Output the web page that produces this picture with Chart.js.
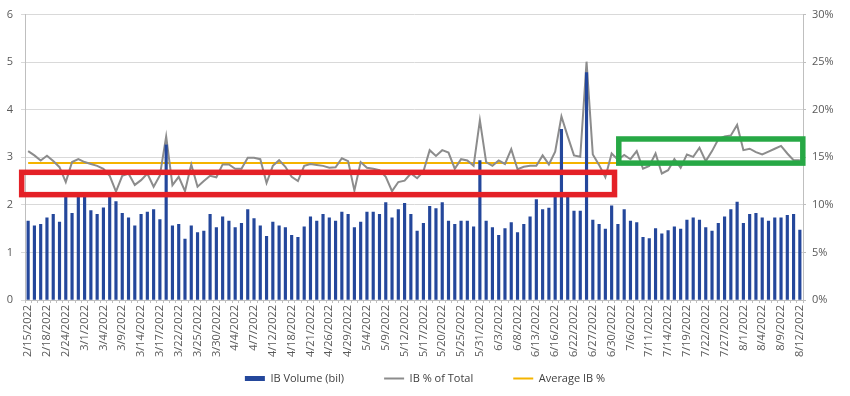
<!DOCTYPE html>
<html>
<head>
<meta charset="utf-8">
<title>IB Volume and IB % of Total</title>
<script src="https://cdn.jsdelivr.net/npm/chart.js@4.4.1/dist/chart.umd.min.js"></script>
<style>
  html, body { margin: 0; padding: 0; background: #ffffff; }
  #wrap { width: 850px; height: 396px; }
</style>
</head>
<body>
<div id="wrap"><canvas id="ib-chart" width="850" height="396"></canvas></div>
<script>
'use strict';

// Trading days, 2/15/2022 - 8/12/2022 (market holidays skipped)
const tradeDates = [
  '2/15/2022', '2/16/2022', '2/17/2022', '2/18/2022', '2/22/2022', '2/23/2022', '2/24/2022', '2/25/2022', '2/28/2022',
  '3/1/2022', '3/2/2022', '3/3/2022', '3/4/2022', '3/7/2022', '3/8/2022', '3/9/2022', '3/10/2022', '3/11/2022',
  '3/14/2022', '3/15/2022', '3/16/2022', '3/17/2022', '3/18/2022', '3/21/2022', '3/22/2022', '3/23/2022', '3/24/2022',
  '3/25/2022', '3/28/2022', '3/29/2022', '3/30/2022', '3/31/2022',
  '4/1/2022', '4/4/2022', '4/5/2022', '4/6/2022', '4/7/2022', '4/8/2022', '4/11/2022', '4/12/2022', '4/13/2022',
  '4/14/2022', '4/18/2022', '4/19/2022', '4/20/2022', '4/21/2022', '4/22/2022', '4/25/2022', '4/26/2022', '4/27/2022',
  '4/28/2022', '4/29/2022',
  '5/2/2022', '5/3/2022', '5/4/2022', '5/5/2022', '5/6/2022', '5/9/2022', '5/10/2022', '5/11/2022', '5/12/2022',
  '5/13/2022', '5/16/2022', '5/17/2022', '5/18/2022', '5/19/2022', '5/20/2022', '5/23/2022', '5/24/2022', '5/25/2022',
  '5/26/2022', '5/27/2022', '5/31/2022',
  '6/1/2022', '6/2/2022', '6/3/2022', '6/6/2022', '6/7/2022', '6/8/2022', '6/9/2022', '6/10/2022', '6/13/2022',
  '6/14/2022', '6/15/2022', '6/16/2022', '6/17/2022', '6/21/2022', '6/22/2022', '6/23/2022', '6/24/2022', '6/27/2022',
  '6/28/2022', '6/29/2022', '6/30/2022',
  '7/1/2022', '7/5/2022', '7/6/2022', '7/7/2022', '7/8/2022', '7/11/2022', '7/12/2022', '7/13/2022', '7/14/2022',
  '7/15/2022', '7/18/2022', '7/19/2022', '7/20/2022', '7/21/2022', '7/22/2022', '7/25/2022', '7/26/2022', '7/27/2022',
  '7/28/2022', '7/29/2022',
  '8/1/2022', '8/2/2022', '8/3/2022', '8/4/2022', '8/5/2022', '8/8/2022', '8/9/2022', '8/10/2022', '8/11/2022',
  '8/12/2022'
];

// IB Volume, billions (left axis)
const ibVolume = [
  1.66, 1.56, 1.59, 1.73, 1.80, 1.64, 2.22, 1.82, 2.22, 2.22, 1.88, 1.80, 1.94, 2.22, 2.07, 1.82,
  1.73, 1.56, 1.80, 1.85, 1.90, 1.69, 3.26, 1.56, 1.59, 1.28, 1.56, 1.42, 1.45, 1.80, 1.52, 1.75,
  1.66, 1.52, 1.61, 1.90, 1.71, 1.56, 1.34, 1.64, 1.56, 1.52, 1.36, 1.32, 1.54, 1.75, 1.66, 1.80,
  1.73, 1.66, 1.85, 1.80, 1.52, 1.64, 1.85, 1.85, 1.80, 2.05, 1.73, 1.90, 2.03, 1.80, 1.45, 1.61,
  1.97, 1.92, 2.05, 1.66, 1.59, 1.66, 1.66, 1.54, 2.93, 1.66, 1.52, 1.36, 1.50, 1.63, 1.42, 1.59,
  1.75, 2.11, 1.90, 1.93, 2.18, 3.59, 2.18, 1.87, 1.87, 4.78, 1.68, 1.59, 1.49, 1.98, 1.59, 1.90,
  1.66, 1.63, 1.32, 1.29, 1.50, 1.39, 1.46, 1.54, 1.49, 1.68, 1.73, 1.68, 1.52, 1.45, 1.61, 1.75,
  1.90, 2.06, 1.61, 1.80, 1.82, 1.73, 1.66, 1.73, 1.73, 1.78, 1.80, 1.47
];

// IB % of Total (right axis, percent)
const ibPctOfTotal = [
  15.65, 15.2, 14.67, 15.16, 14.6, 13.96, 12.4, 14.5, 14.8, 14.5, 14.3, 14.1, 13.8, 13.05, 11.4, 13.05,
  13.3, 12.1, 12.6, 13.3, 11.9, 13.1, 17.2, 12.07, 12.95, 11.44, 14.25, 11.9, 12.5, 13.05, 12.9, 14.25,
  14.25, 13.8, 13.8, 14.95, 14.95, 14.8, 12.3, 14.1, 14.7, 14.0, 12.95, 12.5, 14.1, 14.3, 14.2, 14.1,
  13.9, 13.95, 14.9, 14.6, 11.5, 14.5, 13.9, 13.8, 13.65, 12.95, 11.44, 12.4, 12.55, 13.3, 12.8, 13.5,
  15.75, 15.15, 15.75, 15.5, 13.8, 14.8, 14.67, 14.1, 18.9, 14.5, 14.1, 14.67, 14.3, 15.86, 13.75, 14.0,
  14.1, 14.1, 15.2, 14.25, 15.6, 19.3, 17.2, 15.2, 15.05, 25.05, 15.3, 14.2, 12.9, 15.4, 14.75, 15.25,
  14.8, 15.65, 13.8, 14.1, 15.4, 13.3, 13.65, 14.8, 13.9, 15.3, 15.05, 16.0, 14.6, 15.65, 16.9, 17.2,
  17.3, 18.4, 15.75, 15.9, 15.55, 15.3, 15.6, 15.9, 16.2, 15.4, 14.7, 14.7
];

// Average IB %
const avgIbPct = 14.4;
const avgIbPctLine = tradeDates.map(() => avgIbPct);

// axis ticks
const volumeTicks = { min: 0, max: 6, step: 1 };
const pctTicks = { min: 0, max: 30, step: 5 };
const labelEvery = 3;

// highlight boxes, in category index / left-axis units
const highlightBoxes = [
  { color: '#E42127', xFrom: -1.03, xTo: 93.46, yFrom: 2.215, yTo: 2.684 },
  { color: '#27A845', xFrom: 94.14, xTo: 123.47, yFrom: 2.878, yTo: 3.385 }
];

const FONT = { family: '"Open Sans", "DejaVu Sans", sans-serif', size: 11 };
const TEXT = '#595959';
const GRID = '#d9d9d9';
const AXIS = '#bfbfbf';

const highlightPlugin = {
  id: 'highlightBoxes',
  afterLayout(chart) {
    // date labels hang down past the short x axis box into the legend gap,
    // so don't let the scale clip them
    chart.scales.x._computeLabelArea = () => undefined;
  },
  afterDatasetsDraw(chart) {
    const x = chart.scales.x;
    const y = chart.scales.y;
    const ctx = chart.ctx;
    ctx.save();
    ctx.lineWidth = 5.5;
    highlightBoxes.forEach((b) => {
      const x0 = x.getPixelForValue(b.xFrom);
      const x1 = x.getPixelForValue(b.xTo);
      const y0 = y.getPixelForValue(b.yTo);
      const y1 = y.getPixelForValue(b.yFrom);
      ctx.strokeStyle = b.color;
      ctx.strokeRect(x0, y0, x1 - x0, y1 - y0);
    });
    ctx.restore();
  }
};

const ctx = document.getElementById('ib-chart').getContext('2d');

const chart = new Chart(ctx, {
  type: 'bar',
  data: {
    labels: tradeDates,
    datasets: [
      {
        type: 'bar',
        label: 'IB Volume (bil)',
        data: ibVolume,
        yAxisID: 'y',
        backgroundColor: '#24479B',
        borderWidth: 0,
        barThickness: 2.5
      },
      {
        type: 'line',
        label: 'IB % of Total',
        data: ibPctOfTotal,
        yAxisID: 'y1',
        borderColor: '#8C8C8C',
        backgroundColor: '#8C8C8C',
        borderWidth: 2,
        pointRadius: 0,
        tension: 0,
        fill: false
      },
      {
        type: 'line',
        label: 'Average IB %',
        data: avgIbPctLine,
        yAxisID: 'y1',
        borderColor: '#F4B400',
        backgroundColor: '#F4B400',
        borderWidth: 2,
        pointRadius: 0,
        fill: false
      }
    ]
  },
  options: {
    responsive: false,
    animation: false,
    layout: { padding: { top: 13, left: 0, right: 0, bottom: 2 } },
    plugins: {
      tooltip: { enabled: false },
      legend: {
        position: 'bottom',
        labels: {
          font: FONT,
          color: '#404040',
          usePointStyle: true,
          pointStyleWidth: 20,
          boxHeight: 5,
          padding: 40,
          generateLabels(c) {
            const items = Chart.defaults.plugins.legend.labels.generateLabels(c);
            return items.map((it, i) => {
              if (i === 0) {
                it.pointStyle = 'rect';
                it.lineWidth = 0;
              } else {
                it.pointStyle = 'line';
                it.lineWidth = 2;
              }
              return it;
            });
          }
        }
      }
    },
    scales: {
      x: {
        offset: true,
        grid: { display: true, drawOnChartArea: false, drawTicks: true, tickLength: 3, color: AXIS, offset: true },
        border: { display: true, color: AXIS },
        ticks: {
          autoSkip: false,
          maxRotation: 90,
          minRotation: 90,
          padding: 2,
          font: FONT,
          color: TEXT,
          callback: function (value, index) {
            return index % labelEvery === 0 ? this.getLabelForValue(value) : '';
          }
        },
        afterFit(scale) { scale.height = 33; }
      },
      y: {
        position: 'left',
        min: volumeTicks.min,
        max: volumeTicks.max,
        grid: { color: GRID, tickLength: 4 },
        border: { display: true, color: AXIS },
        ticks: { stepSize: volumeTicks.step, padding: 8, font: FONT, color: TEXT },
        afterFit(scale) { scale.width = 25; }
      },
      y1: {
        position: 'right',
        min: pctTicks.min,
        max: pctTicks.max,
        grid: { drawOnChartArea: false, tickLength: 3, color: AXIS },
        border: { display: true, color: AXIS },
        ticks: {
          stepSize: pctTicks.step,
          padding: 6,
          font: FONT,
          color: TEXT,
          callback: (v) => v + '%'
        },
        afterFit(scale) { scale.width = 47; }
      }
    }
  },
  plugins: [highlightPlugin]
});
</script>
</body>
</html>
